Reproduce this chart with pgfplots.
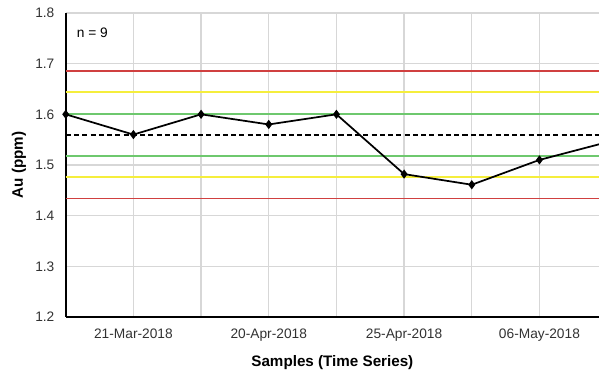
\documentclass[border=0pt]{standalone}
\usepackage{pgfplots}
\pgfplotsset{compat=1.18}
\usepackage{fontspec}
\setmainfont{Liberation Sans}

\definecolor{limred}{RGB}{208,64,64}
\definecolor{limyellow}{RGB}{245,238,60}
\definecolor{limgreen}{RGB}{110,200,110}
\definecolor{gridgrey}{RGB}{215,215,215}
\definecolor{ticktext}{RGB}{50,50,50}

\begin{document}
\begin{tikzpicture}
\begin{axis}[
    scale only axis,
    width=400pt, height=228pt,
    xmin=0, xmax=7.88,
    ymin=1.2, ymax=1.8,
    ytick={1.2,1.3,...,1.8},
    yticklabel style={/pgf/number format/fixed,/pgf/number format/precision=1,/pgf/number format/fixed zerofill},
    xtick={1,...,7},
    xticklabels={21-Mar-2018,,20-Apr-2018,,25-Apr-2018,,06-May-2018},
    major tick length=0pt,
    /pgf/number format/assume math mode=true,
    tick label style={font=\fontsize{10.3}{12}\selectfont, text=ticktext},
    xticklabel style={yshift=-5.5pt},
    yticklabel style={xshift=-5pt},
    set layers,
    grid=major,
    grid style={gridgrey, line width=1pt},
    axis x line*=bottom, axis y line*=left,
    axis line style={black, line width=1.3pt, -},
    xlabel={\textbf{Samples (Time Series)}},
    ylabel={\textbf{Au (ppm)}},
    label style={font=\fontsize{11.4}{13}\selectfont},
    xlabel style={yshift=-4pt},
    clip=true,
]
% control limits
\addplot[limred, line width=1.3pt] coordinates {(0,1.686) (8,1.686)};
\addplot[limyellow, line width=1.4pt] coordinates {(0,1.644) (8,1.644)};
\addplot[limgreen, line width=1.3pt] coordinates {(0,1.601) (8,1.601)};
\addplot[black, line width=1.5pt, dash pattern=on 3.8pt off 2.4pt] coordinates {(0,1.560) (8,1.560)};
\addplot[limgreen, line width=1.3pt] coordinates {(0,1.518) (8,1.518)};
\addplot[limyellow, line width=1.4pt] coordinates {(0,1.476) (8,1.476)};
\addplot[limred, line width=1.3pt] coordinates {(0,1.434) (8,1.434)};
% samples
\addplot[black, line width=1.3pt, mark=diamond*, mark size=2.4pt] coordinates {
    (0,1.600) (1,1.560) (2,1.600) (3,1.580) (4,1.600)
    (5,1.482) (6,1.461) (7,1.510) (8,1.545)
};
\node[anchor=north west, font=\fontsize{10.3}{12}\selectfont] at (rel axis cs:0.012,0.965) {n = 9};
\coordinate (bl) at (rel axis cs:0,0);
\coordinate (tr) at (rel axis cs:1,1);
\end{axis}
\pgfresetboundingbox
\path[use as bounding box] ([shift={(-49.3pt,-39.75pt)}]bl) rectangle ([shift={(0pt,9.75pt)}]tr);
\end{tikzpicture}
\end{document}
